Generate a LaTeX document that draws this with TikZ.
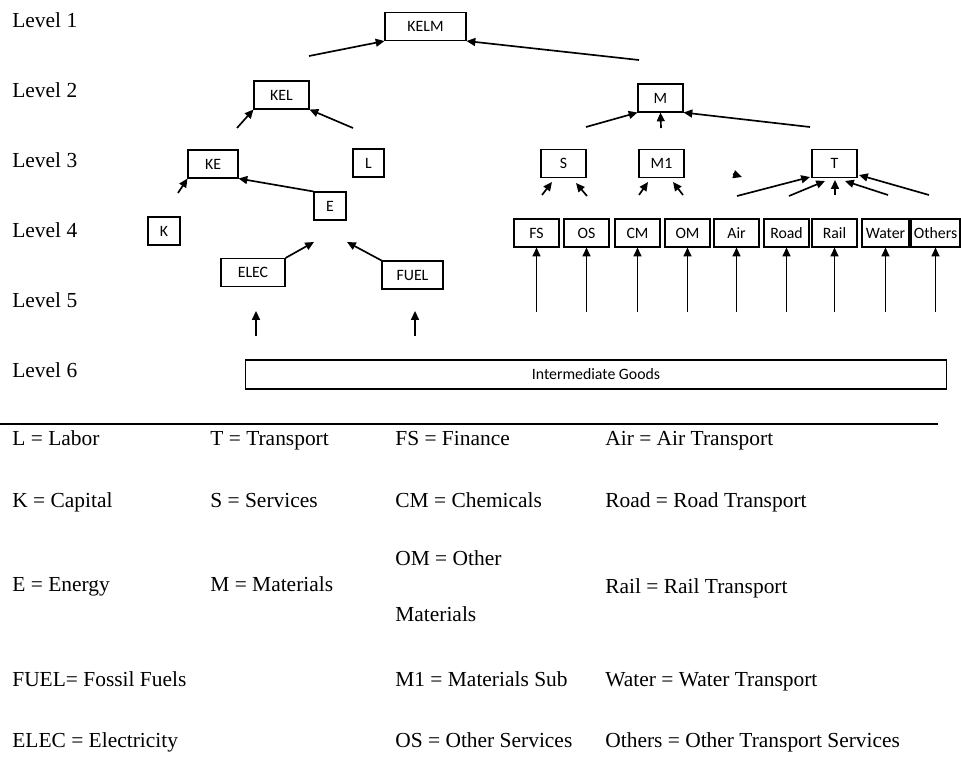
\documentclass[tikz,border=0pt]{standalone}
\usepackage{fontspec}
\setmainfont{Liberation Serif}
\newfontfamily\carlito{Carlito}
\usetikzlibrary{arrows.meta}

\begin{document}
\begin{tikzpicture}[x=0.02cm,y=-0.02cm,
  box/.style={draw,line width=0.6pt,inner sep=0pt,minimum height=0.56cm,font=\carlito\fontsize{9}{10}\selectfont},
  arr/.style={-{Triangle[length=5pt,width=4.5pt]},line width=0.95pt},
  lab/.style={anchor=base west,inner sep=0pt,font=\fontsize{12.2}{14}\selectfont}]
  \useasboundingbox (0,0) rectangle (961,782);
  \foreach \i in {1,...,6} \node[lab] (lev\i) at (12,{27+70*(\i-1)}) {Level \i};
  % tree boxes
  \node[box,minimum width=1.62cm] (kelm) at (425.5,26.5) {KELM};
  \node[box,minimum width=1.1cm] (kel) at (281.5,95) {KEL};
  \node[box,minimum width=0.9cm] (m) at (660.5,98) {M};
  \node[box,minimum width=1cm] (ke) at (213,164) {KE};
  \node[box,minimum width=0.62cm] (l) at (368.5,163) {L};
  \node[box,minimum width=0.9cm] (s) at (563.5,163.5) {S};
  \node[box,minimum width=0.9cm] (mone) at (661.5,163.5) {M1};
  \node[box,minimum width=0.9cm] (t) at (834.5,163.5) {T};
  \node[box,minimum width=0.64cm] (e) at (330,206) {E};
  \node[box,minimum width=0.64cm] (k) at (164,231) {K};
  \node[box,minimum width=1.28cm] (elec) at (253,272.5) {ELEC};
  \node[box,minimum width=1.22cm] (fuel) at (412.5,275) {FUEL};
  \node[box,minimum width=14.04cm,minimum height=0.58cm] (goods) at (596,374.5) {Intermediate Goods};
  % level 4 with inputs
  \foreach \n/\x/\w/\a in {fs/536.5/0.9/FS,os/586.5/0.9/OS,cm/637.5/0.9/CM,om/687.5/0.9/OM,air/736.5/0.9/Air,
      road/786.5/0.9/Road,rail/834.5/0.9/Rail,water/885.5/0.94/Water,others/935.5/0.98/Others}
    {\node[box,minimum width=\w cm] (\n) at (\x,233) {\a};
     \coordinate (\n-in) at (\x,312); \draw[arr] (\n-in) -- (\n);}
  % free ends
  \coordinate (kelm-l) at (309,56); \coordinate (kelm-r) at (639,60);
  \coordinate (kel-l) at (237,128); \coordinate (kel-r) at (353,128);
  \coordinate (m-l) at (586,127); \coordinate (m-c) at (661,128); \coordinate (m-r) at (810,127);
  \coordinate (ke-l) at (178,193);
  \coordinate (e-l) at (314,242); \coordinate (e-r) at (347,242);
  \coordinate (elec-in) at (256,336); \coordinate (elec-up) at (256,311);
  \coordinate (fuel-in) at (415,336); \coordinate (fuel-up) at (415,311);
  \draw[arr] (kelm-l) -- (kelm.south west); \draw[arr] (kelm-r) -- (kelm.south east);
  \draw[arr] (kel-l) -- (kel.south west); \draw[arr] (kel-r) -- (kel.south east);
  \draw[arr] (m-l) -- (m.south west); \draw[arr] (m-c) -- (m.south); \draw[arr] (m-r) -- (m.south east);
  \draw[arr] (ke-l) -- (ke.south west); \draw[arr] (e.north west) -- (ke.south east);
  \draw[arr] (elec.north east) -- (e-l); \draw[arr] (fuel.north west) -- (e-r);
  \draw[arr] (elec-in) -- (elec-up); \draw[arr] (fuel-in) -- (fuel-up);
  % short arrows under S, M1, T
  \foreach \n/\a/\b/\c/\d in {s1/542/195/552/182,s2/587/196/576/183,m1/639/195/648/182,m2/683/195/673/182,
      t1/737/196/810/177,t2/789/196/825/181,t3/835/195/835/180,t4/888/195/845/181,t5/929/195/859/175,x/733/174/742/177}
    {\coordinate (\n-a) at (\a,\b); \coordinate (\n-b) at (\c,\d); \draw[arr] (\n-a) -- (\n-b);}
  % key
  \draw[line width=0.6pt] (0,424) -- (938,424);
  \foreach \x/\y/\t [count=\c] in {12/445/L = Labor,12/507/K = Capital,12/591/E = Energy,12/686/FUEL= Fossil Fuels,
      12/747/ELEC = Electricity,210/445/T = Transport,210/507/S = Services,210/591/M = Materials,
      395/445/FS = Finance,395/507/CM = Chemicals,395/565/OM = Other,395/621/Materials,395/686/M1 = Materials Sub,
      395/747/OS = Other Services,605/445/Air = Air Transport,605/507/Road = Road Transport,
      605/593/Rail = Rail Transport,605/686/Water = Water Transport,605/747/Others = Other Transport Services}
    \node[lab] (key\c) at (\x,\y) {\t};
\end{tikzpicture}
\end{document}
